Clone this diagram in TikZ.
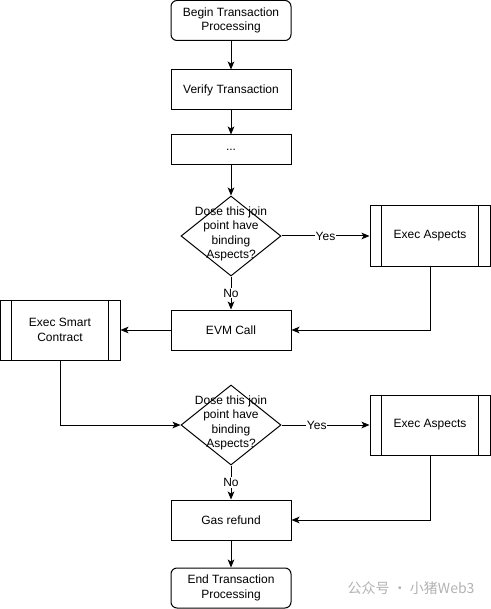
\documentclass[tikz,border=0pt]{standalone}
\usepackage{fontspec}
\setmainfont{Liberation Sans}
\newfontfamily\cjkfont{Noto Sans CJK SC}
\usetikzlibrary{shapes.geometric,arrows.meta}

\begin{document}
\begin{tikzpicture}[x=0.75pt,y=0.75pt,yscale=-1,xscale=1,
  every node/.style={font=\fontsize{9}{10.8}\selectfont},
  procbox/.style={draw,line width=0.75pt,minimum width=90pt,minimum height=30pt,inner sep=0.75pt,align=center},
  termbox/.style={procbox,rounded corners=4.5pt},
  subbox/.style={procbox,minimum height=45pt},
  decbox/.style={draw,line width=0.75pt,diamond,minimum width=75pt,minimum height=60pt,inner sep=0pt},
  dectext/.style={inner sep=0.75pt,align=center},
  flow/.style={line width=0.75pt,-{Stealth[length=6pt,width=5pt,inset=1.5pt]}},
  lab/.style={fill=white,inner sep=0.75pt}]
\useasboundingbox (0,0) rectangle (491,609);

%Shape: Rounded Rect
\node [termbox] (begin) at (231,20.5) {Begin Transaction\\Processing};
%Shape: Rectangle
\node [procbox] (verify) at (231,90) {Verify Transaction};
%Shape: Rectangle
\node [procbox,minimum height=22.5pt] (dots) at (231,150) {...};
%Shape: Diamond
\node [decbox] (d1) at (231,236) {};
\node [dectext] (d1t) at (231,234) {Dose this join\\point have\\binding\\Aspects?};
%Shape: Predefined Process
\node [subbox] (ea1) at (430,236) {Exec Aspects};
\draw [line width=0.75pt] ([xshift=9pt]ea1.north west) -- ([xshift=9pt]ea1.south west) ([xshift=-9pt]ea1.north east) -- ([xshift=-9pt]ea1.south east);
%Shape: Rectangle
\node [procbox] (evm) at (231,330) {EVM Call};
%Shape: Predefined Process
\node [subbox] (esc) at (60,330) {Exec Smart\\Contract};
\draw [line width=0.75pt] ([xshift=9pt]esc.north west) -- ([xshift=9pt]esc.south west) ([xshift=-9pt]esc.north east) -- ([xshift=-9pt]esc.south east);
%Shape: Diamond
\node [decbox] (d2) at (231,425) {};
\node [dectext] (d2t) at (231,423) {Dose this join\\point have\\binding\\Aspects?};
%Shape: Predefined Process
\node [subbox] (ea2) at (430,425) {Exec Aspects};
\draw [line width=0.75pt] ([xshift=9pt]ea2.north west) -- ([xshift=9pt]ea2.south west) ([xshift=-9pt]ea2.north east) -- ([xshift=-9pt]ea2.south east);
%Shape: Rectangle
\node [procbox] (gas) at (231,520) {Gas refund};
%Shape: Rounded Rect
\node [termbox] (end) at (231,588) {End Transaction\\Processing};

%Straight Lines
\draw [flow] (begin) -- (verify);
\draw [flow] (verify) -- (dots);
\draw [flow] (dots) -- (d1);
\draw [flow] (d1) -- node [lab] (y1) {Yes} (ea1);
\draw [flow] (d1) -- node [lab] (n1) {No} (evm);
\draw [flow] (ea1) |- (evm);
\draw [flow] (evm) -- (esc);
\draw [flow] (esc) |- (d2);
\draw [flow] (d2) -- node [lab,pos=0.4] (y2) {Yes} (ea2);
\draw [flow] (d2) -- node [lab] (n2) {No} (gas);
\draw [flow] (ea2) |- (gas);
\draw [flow] (gas) -- (end);

% Text Node
\node [anchor=west,text=black!30,font=\cjkfont\fontsize{10.5}{12}\selectfont] (wm) at (343,588) {公众号 · 小猪Web3};

\end{tikzpicture}
\end{document}
